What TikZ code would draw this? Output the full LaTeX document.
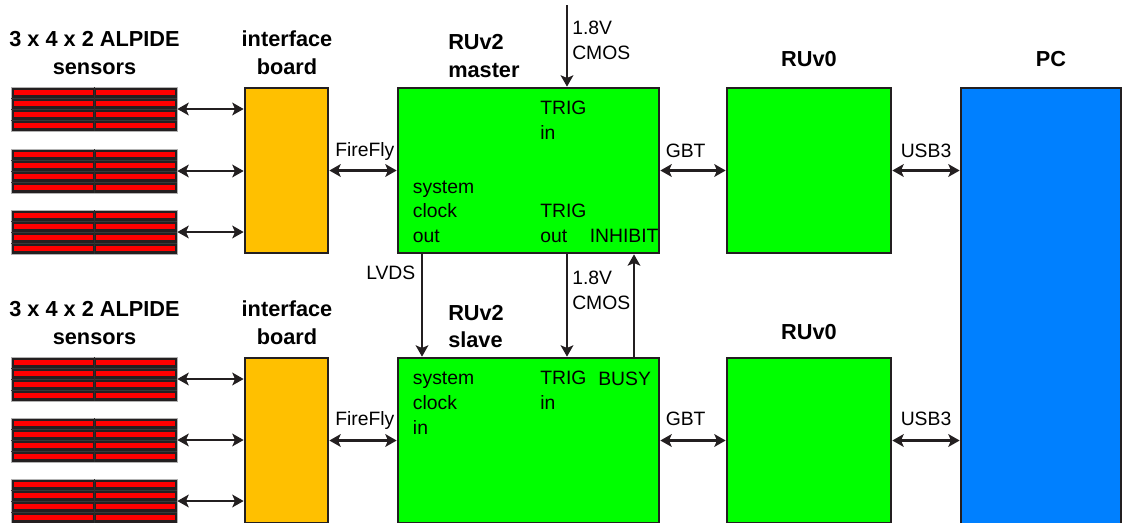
\documentclass[tikz,border=0pt]{standalone}
\usepackage{fontspec}
\setmainfont{Liberation Sans}
\usetikzlibrary{arrows.meta,fit}
\definecolor{ink}{HTML}{231F20}
\definecolor{ruGreen}{HTML}{00FF00}
\definecolor{ibOrange}{HTML}{FFC000}
\definecolor{pcBlue}{HTML}{0080FF}
\definecolor{senRed}{HTML}{FF0000}
\newcommand\sensorGroupAt[2]{%
  \node[sensorGroup, fit={(11,#2) (177,{#2+44})}] (#1) {};
  \foreach \r in {0,1,2,3} {
    \fill[senRed] (14,{#2+\r*11+3}) rectangle (93,{#2+\r*11+8.3});
    \fill[senRed] (96,{#2+\r*11+3}) rectangle (175,{#2+\r*11+8.3});
  }
  \foreach \r in {1,2,3} {
    \draw[gray!45!black, line width=0.5pt] (11,{#2+\r*11}) -- (177,{#2+\r*11});
  }
  \draw[gray!35!black, line width=0.8pt] (94.5,#2) -- (94.5,{#2+44});
}
\begin{document}
\begin{tikzpicture}[x=0.75pt,y=-0.75pt,
  box/.style={draw=ink, line width=2pt, inner sep=0pt},
  ruBox/.style={box, fill=ruGreen},
  ibBox/.style={box, fill=ibOrange},
  pcBox/.style={box, fill=pcBlue},
  sensorGroup/.style={draw=gray!60, line width=0.5pt, fill=ink, inner sep=0pt},
  link/.style={draw=ink, line width=1.8pt, {Stealth[length=8.5pt,width=9.5pt,inset=2pt]}-{Stealth[length=8.5pt,width=9.5pt,inset=2pt]}},
  sig/.style={draw=ink, line width=1.8pt, -{Stealth[length=8.5pt,width=9.5pt,inset=2pt]}},
  lbl/.style={font=\fontsize{14.5}{18.4}\selectfont, inner sep=0pt, align=left, text=black},
  ttl/.style={font=\bfseries\fontsize{16.3}{20.5}\selectfont, inner sep=0pt, text=black},
]
\useasboundingbox (0,0) rectangle (1124,522);
\clip (0,0) rectangle (1124,522);

% sensors
\sensorGroupAt{s1}{87}
\sensorGroupAt{s2}{149}
\sensorGroupAt{s3}{210}
\sensorGroupAt{s4}{357}
\sensorGroupAt{s5}{418}
\sensorGroupAt{s6}{479}

% boxes
\node[ibBox, fit={(245,88) (328,253)}] (ib1) {};
\node[ibBox, fit={(245,358) (328,523)}] (ib2) {};
\node[ruBox, fit={(398,88) (659,253)}] (master) {};
\node[ruBox, fit={(398,358) (659,523)}] (slave) {};
\node[ruBox, fit={(727,88) (891,253)}] (r1) {};
\node[ruBox, fit={(727,358) (891,523)}] (r2) {};
\node[pcBox, fit={(961,88) (1121,535)}] (pc) {};

% links
\foreach \s/\b in {s1/ib1,s2/ib1,s3/ib1,s4/ib2,s5/ib2,s6/ib2} {
  \draw[link] (\s.east) -- (\s.east -| \b.west);
}
\draw[link] (ib1.east) -- (ib1.east -| master.west);
\draw[link] (master.east) -- (master.east -| r1.west);
\draw[link] (r1.east) -- (r1.east -| pc.west);
\draw[link] (ib2.east) -- (ib2.east -| slave.west);
\draw[link] (slave.east) -- (slave.east -| r2.west);
\draw[link] (r2.east) -- (r2.east -| pc.west);

% vertical signals
\coordinate (cmosTop) at (567,5);
\coordinate (lvdsX) at (422,0);
\coordinate (trigX) at (567,0);
\coordinate (busyX) at (634,0);
\draw[sig] (cmosTop) -- (cmosTop |- master.north);
\draw[sig] (master.south -| lvdsX) -- (slave.north -| lvdsX);
\draw[sig] (master.south -| trigX) -- (slave.north -| trigX);
\draw[sig] (slave.north -| busyX) -- (master.south -| busyX);

% titles (anchor base = baseline of last line)
\node[ttl, align=center, anchor=base] (tSen1) at (94.5,74) {3 x 4 x 2 ALPIDE\\sensors};
\node[ttl, align=center, anchor=base] (tSen2) at (94.5,344) {3 x 4 x 2 ALPIDE\\sensors};
\node[ttl, align=center, anchor=base] (tIb1) at (287,74) {interface\\board};
\node[ttl, align=center, anchor=base] (tIb2) at (287,344) {interface\\board};
\node[ttl, align=left, anchor=base west] (tMaster) at (448,77) {RUv2\\master};
\node[ttl, align=left, anchor=base west] (tSlave) at (448,347.5) {RUv2\\slave};
\node[ttl, anchor=base] (tR1) at (809,66.7) {RUv0};
\node[ttl, anchor=base] (tR2) at (809,339) {RUv0};
\node[ttl, anchor=base] (tPC) at (1051,66.7) {PC};

% labels
\node[lbl, anchor=base west] (lFf1) at (335,156.7) {FireFly};
\node[lbl, anchor=base west] (lFf2) at (335,425) {FireFly};
\node[lbl, anchor=base west] (lGbt1) at (665.5,157.3) {GBT};
\node[lbl, anchor=base west] (lGbt2) at (665.5,425) {GBT};
\node[lbl, anchor=base west] (lUsb1) at (900.5,157.3) {USB3};
\node[lbl, anchor=base west] (lUsb2) at (900.5,425) {USB3};
\node[lbl, anchor=base west] (lLvds) at (366,279.3) {LVDS};
\node[lbl, anchor=base west] (lCmos1) at (572,59) {1.8V\\CMOS};
\node[lbl, anchor=base west] (lCmos2) at (572,309.5) {1.8V\\CMOS};

\node[lbl, anchor=base west] (mTrigIn) at (540,139.5) {TRIG\\in};
\node[lbl, anchor=base west] (mClk) at (412.7,242.5) {system\\clock\\out};
\node[lbl, anchor=base west] (mTrigOut) at (540,242.5) {TRIG\\out};
\node[lbl, anchor=base west] (mInh) at (589.5,242.5) {INHIBIT};

\node[lbl, anchor=base west] (sClk) at (412.7,434) {system\\clock\\in};
\node[lbl, anchor=base west] (sTrigIn) at (540,409.5) {TRIG\\in};
\node[lbl, anchor=base west] (sBusy) at (598,385) {BUSY};
\end{tikzpicture}
\end{document}
